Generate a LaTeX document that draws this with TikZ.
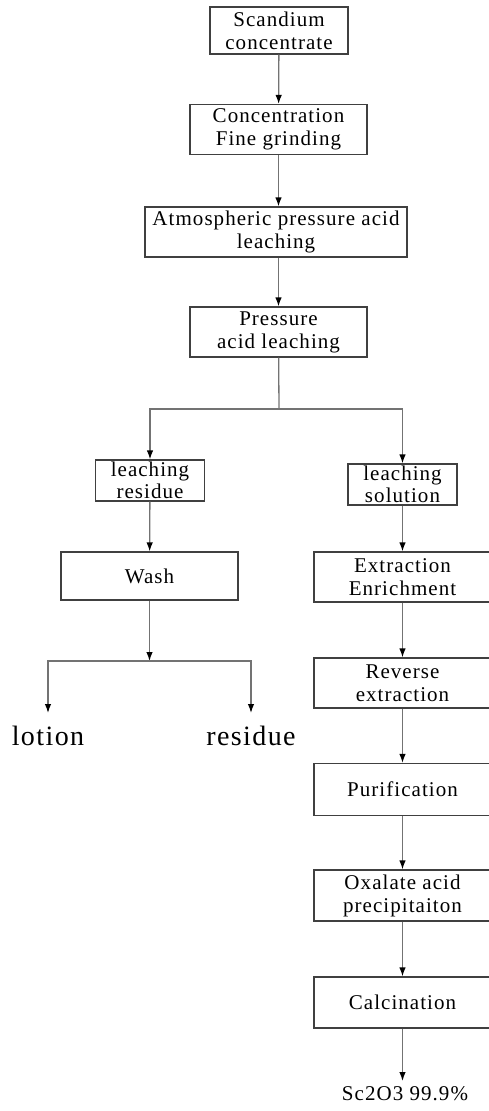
\documentclass[tikz,border=0pt]{standalone}
\usepackage{fontspec}
\setmainfont{Liberation Serif}[LetterSpace=5]
\usetikzlibrary{arrows.meta}

\begin{document}
\begin{tikzpicture}[x=1pt, y=-1pt,
  box/.style={draw=black!75, line width=1.2pt, align=center, inner sep=0pt,
    font=\fontsize{21}{23}\selectfont},
  flow/.style={draw=black!55, line width=1.3pt},
  flowarrow/.style={flow, -{Latex[black,length=9pt,width=6.5pt]}},
  outtext/.style={inner sep=0pt, anchor=north}]
  \useasboundingbox (0,0) rectangle (489,1111);

  % main column
  \node[box, minimum width=138, minimum height=47] (scandium) at (279,30.5) {Scandium\\concentrate};
  \node[box, minimum width=177, minimum height=50] (grinding) at (278.5,129.5) {Concentration\\Fine grinding};
  \node[box, minimum width=262, minimum height=50] (atmleach) at (276,232) {Atmospheric pressure acid\\leaching};
  \node[box, minimum width=177, minimum height=50] (presleach) at (278.5,332) {Pressure\\acid leaching};

  \draw[flowarrow] (scandium) -- (grinding);
  \draw[flowarrow] (grinding) -- (atmleach.north -| grinding);
  \draw[flowarrow] (atmleach.south -| presleach) -- (presleach);

  % split
  \coordinate (split) at (279,409);
  \node[box, minimum width=109, minimum height=41, font=\fontsize{21}{22}\selectfont] (residue) at (150,480.5) {leaching\\residue};
  \node[box, minimum width=109, minimum height=41, font=\fontsize{21}{22}\selectfont] (solution) at (402.5,484.5) {leaching\\solution};

  \draw[flow] (presleach) -- (split);
  \draw[flowarrow] (split) -| (residue);
  \draw[flowarrow] (split) -| (solution);

  % residue side
  \node[box, minimum width=177, minimum height=48] (wash) at (149.5,576) {Wash};
  \coordinate (wsplit) at (149.5,661);
  \node[outtext, inner ysep=13pt, font=\fontsize{28}{30}\selectfont] (lotion) at (48,713) {lotion};
  \node[outtext, inner ysep=13pt, font=\fontsize{28}{30}\selectfont] (residueout) at (251,713) {residue};

  \draw[flowarrow] (residue) -- (wash);
  \draw[flowarrow] (wash) -- (wsplit);
  \draw[flowarrow] (wsplit) -| (lotion);
  \draw[flowarrow] (wsplit) -| (residueout);

  % solution side
  \node[box, minimum width=177, minimum height=50] (extract) at (402.5,577) {Extraction\\Enrichment};
  \node[box, minimum width=177, minimum height=50] (reverse) at (402.5,683) {Reverse\\extraction};
  \node[box, minimum width=177, minimum height=52] (purify) at (402.5,789.5) {Purification};
  \node[box, minimum width=177, minimum height=51] (oxalate) at (402.5,895.5) {Oxalate acid\\precipitaiton};
  \node[box, minimum width=177, minimum height=51] (calcine) at (402.5,1002.5) {Calcination};
  \node[outtext, inner ysep=5pt, font=\fontsize{21}{23}\selectfont] (product) at (405,1081) {Sc2O3 99.9\%};

  \draw[flowarrow] (solution) -- (extract);
  \draw[flowarrow] (extract) -- (reverse);
  \draw[flowarrow] (reverse) -- (purify);
  \draw[flowarrow] (purify) -- (oxalate);
  \draw[flowarrow] (oxalate) -- (calcine);
  \draw[flowarrow] (calcine) -- (product.north -| calcine);
\end{tikzpicture}
\end{document}
